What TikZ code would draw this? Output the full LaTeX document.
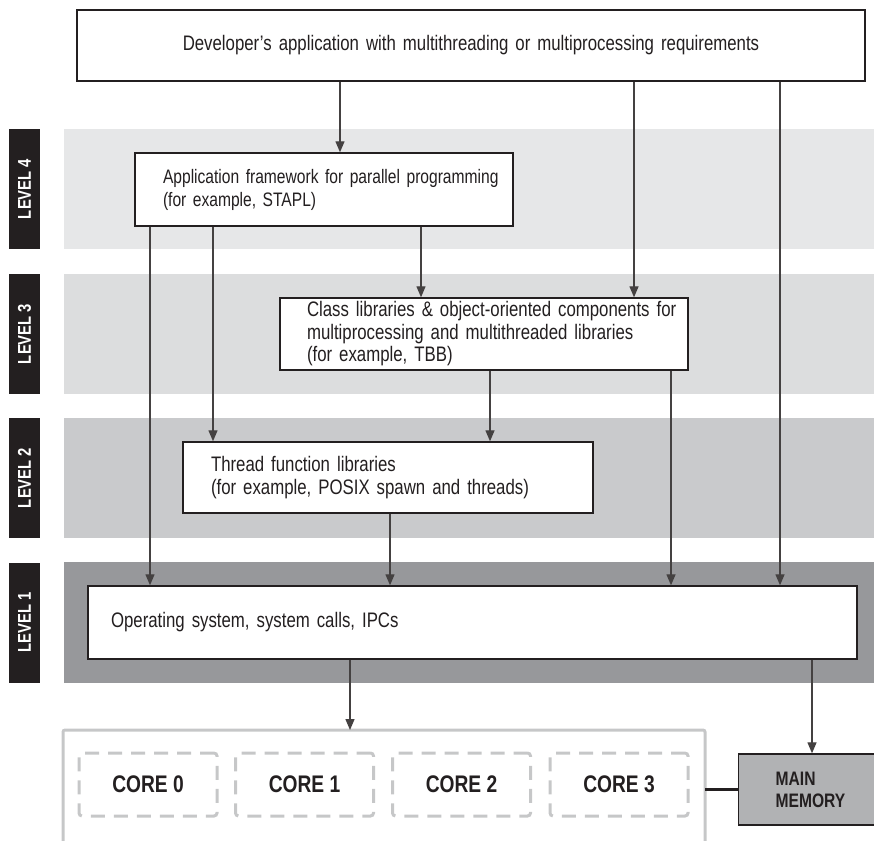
\documentclass[tikz,border=0pt]{standalone}
\usepackage{fontspec}
\setmainfont{Liberation Sans}[FakeStretch=0.8]
\usetikzlibrary{arrows.meta, positioning}
\definecolor{ink}{HTML}{231F20}
\definecolor{levfour}{HTML}{E6E7E8}
\definecolor{levthree}{HTML}{DCDDDE}
\definecolor{levtwo}{HTML}{C9CACC}
\definecolor{levone}{HTML}{97989B}
\definecolor{memgray}{HTML}{B1B2B4}
\definecolor{coregray}{HTML}{C6C7C8}
\tikzset{
    band/.style={draw=none, minimum width=810, minimum height=120, inner sep=0},
    lvl/.style={fill=ink, text=white, rotate=90, minimum width=120, minimum height=31,
        inner sep=0, font=\fontsize{18.5}{20}\selectfont\bfseries},
    box/.style 2 args={draw=ink, line width=1.4pt, fill=white, text=ink, align=left,
        text width=#1, minimum height=#2, inner xsep=0, inner ysep=0,
        font=\fontsize{21}{22.5}\selectfont},
    pad/.style={execute at begin node={\leftskip=#1pt\hyphenpenalty=10000}},
    core/.style={draw=coregray, line width=3pt, dash pattern=on 14pt off 9pt,
        rounded corners=3pt, minimum width=138, minimum height=63, text=ink,
        font=\fontsize{24}{26}\selectfont\bfseries},
    arr/.style={draw=ink!85, line width=1.3pt, -{Triangle[length=11pt,width=9pt]}}
}
\begin{document}
\begin{tikzpicture}[x=1pt, y=-1pt]
    \useasboundingbox (0,0) rectangle (874,840);
    % level bands and their labels
    \node[band, fill=levfour] (band4) at (469,189) {};
    \node[band, fill=levthree] (band3) at (469,334) {};
    \node[band, fill=levtwo] (band2) at (469,478) {};
    \node[band, fill=levone, minimum height=121] (band1) at (469,622.5) {};
    \node[lvl] (lvl4) at (24.5,189) {LEVEL 4};
    \node[lvl] (lvl3) at (24.5,334) {LEVEL 3};
    \node[lvl] (lvl2) at (24.5,478) {LEVEL 2};
    \node[lvl] (lvl1) at (24.5,622.5) {LEVEL 1};
    % software stack
    \node[box={788}{71}, align=center] (dev) at (471,45.5)
        {Developer’s application with multithreading or multiprocessing requirements};
    \node[box={378}{73}, pad=28, font=\fontsize{19.5}{23}\selectfont] (app) at (324,189.5)
        {\mbox{Application framework for parallel programming}\\(for example, STAPL)};
    \node[box={408}{72}, pad=27] (cls) at (484,334)
        {Class libraries \& object-oriented components for\\multiprocessing and multithreaded libraries\\(for example, TBB)};
    \node[box={410}{71}, pad=28] (thr) at (388,477.5)
        {Thread function libraries\\(for example, POSIX spawn and threads)};
    \node[box={769}{73}, pad=23] (os) at (472.5,622.5)
        {Operating system, system calls, IPCs};
    % hardware
    \draw[coregray, line width=3pt, rounded corners=2pt] (63,845) -- (63,730) -- (705,730) -- (705,845);
    \coordinate (cpu) at (384,730);
    \foreach \n/\cx in {0/148, 1/304.5, 2/461.5, 3/619}
        \node[core] (core\n) at (\cx,784.5) {CORE \n};
    \node[draw=ink, line width=1.4pt, fill=memgray, anchor=west, text width=100, inner xsep=37,
        minimum height=71, align=left, text=ink, font=\fontsize{19.5}{22}\selectfont\bfseries]
        (mem) at (738,789.5) {MAIN\\MEMORY};
    % connectors
    \draw[arr] (dev.south -| 340,0) -- (app.north -| 340,0);
    \draw[arr] (dev.south -| 634,0) -- (cls.north -| 634,0);
    \draw[arr] (dev.south -| 780,0) -- (os.north -| 780,0);
    \draw[arr] (app.south -| 421,0) -- (cls.north -| 421,0);
    \draw[arr] (app.south -| 213,0) -- (thr.north -| 213,0);
    \draw[arr] (app.south -| 150,0) -- (os.north -| 150,0);
    \draw[arr] (cls.south -| 490,0) -- (thr.north -| 490,0);
    \draw[arr] (cls.south -| 671,0) -- (os.north -| 671,0);
    \draw[arr] (thr.south -| 390,0) -- (os.north -| 390,0);
    \draw[arr] (os.south -| 350,0) -- (cpu -| 350,0);
    \draw[arr] (os.south -| 812,0) -- (mem.north -| 812,0);
    \draw[ink, line width=3pt] (705,789) -- (mem.west |- 0,789);
\end{tikzpicture}
\end{document}
